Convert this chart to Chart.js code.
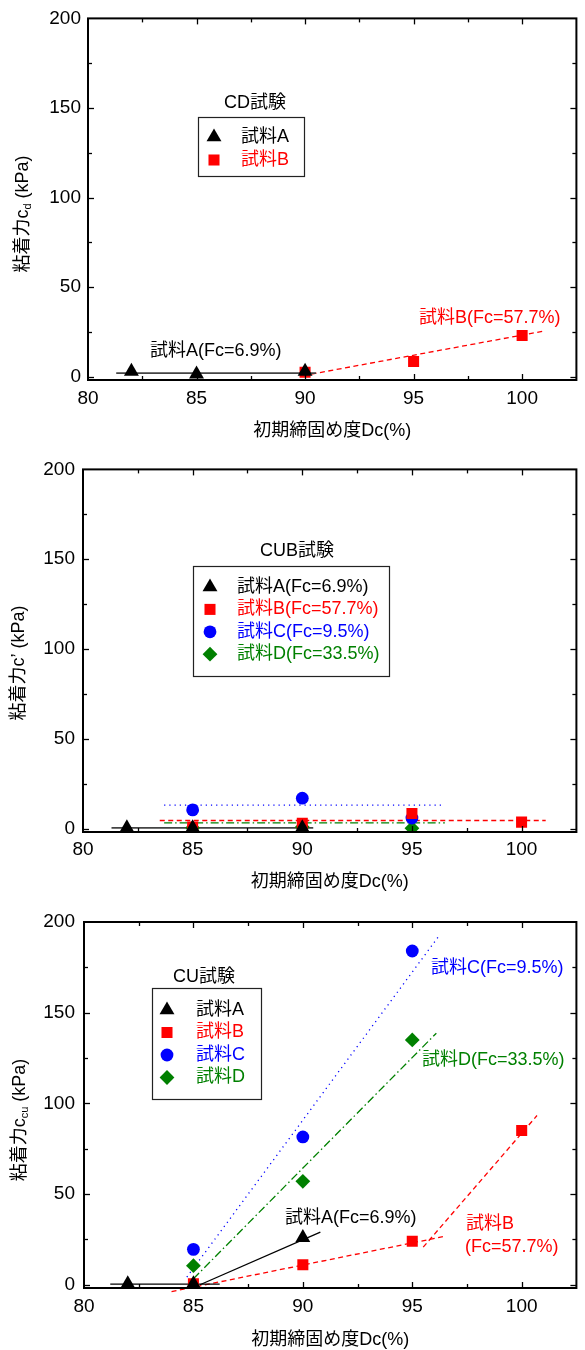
<!DOCTYPE html>
<html lang="ja">
<head>
<meta charset="utf-8">
<title>粘着力と初期締固め度</title>
<script src="https://cdn.jsdelivr.net/npm/chart.js"></script>
<style>
  html, body { margin: 0; padding: 0; background: #fff; }
  #wrap { position: relative; width: 585px; height: 1350px; overflow: hidden; }
  .panel { position: absolute; left: 0; width: 585px; height: 450px; }
</style>
</head>
<body>
<div id="wrap">
  <div class="panel" style="top:0"><canvas id="chartCD" width="585" height="450"></canvas></div>
  <div class="panel" style="top:450px"><canvas id="chartCUB" width="585" height="450"></canvas></div>
  <div class="panel" style="top:900px"><canvas id="chartCU" width="585" height="450"></canvas></div>
</div>
<script>
/* 粘着力 vs 初期締固め度 — three panels (CD / CUB / CU)
   values */

// axes (same for all panels)
const xTickValues = [80, 85, 90, 95, 100];
const yTickValues = [0, 50, 100, 150, 200];
const xRange = [80, 102.5];
const yRange = [-1.8, 200];

// ---- CD試験 ----
const cdA_dc = [82, 85, 90];
const cdA_c  = [3, 1.5, 3];
const cdB_dc = [90, 95, 100];
const cdB_c  = [2.5, 8.5, 23];
const cdFitA_dc = [81.3, 90.5];
const cdFitA_c  = [2, 2];
const cdFitB_dc = [90.3, 101];
const cdFitB_c  = [1.5, 25.5];

// ---- CUB試験 ----
const cubA_dc = [82, 85, 90];
const cubA_c  = [0.5, 0.5, 0.5];
const cubB_dc = [85, 90, 95, 100];
const cubB_c  = [1, 3, 8.5, 3.7];
const cubC_dc = [85, 90, 95];
const cubC_c  = [10.5, 17, 6];
const cubD_dc = [85, 90, 95];
const cubD_c  = [0.5, 1, 0.3];
const cubFitA_dc = [81.3, 90.5];
const cubFitA_c  = [0.5, 0.5];
const cubFitB_dc = [83.5, 101.1];
const cubFitB_c  = [4.6, 4.6];
const cubFitC_dc = [83.7, 96.5];
const cubFitC_c  = [13.2, 13.2];
const cubFitD_dc = [83.7, 96.5];
const cubFitD_c  = [3.3, 3.3];

// ---- CU試験 ----
const cuA_dc = [82, 85, 90];
const cuA_c  = [0.5, 0.5, 26];
const cuB_dc = [85, 90, 95, 100];
const cuB_c  = [0.5, 11, 24, 85];
const cuC_dc = [85, 90, 95];
const cuC_c  = [19.5, 81.5, 184];
const cuD_dc = [85, 90, 95];
const cuD_c  = [10.5, 57, 135];
const cuFitA1_dc = [81.2, 86.2];
const cuFitA1_c  = [0.3, 0.3];
const cuFitA2_dc = [85.3, 90.8];
const cuFitA2_c  = [0, 29];
const cuFitB1_dc = [84.0, 96.4];
const cuFitB1_c  = [-3.8, 26.5];
const cuFitB2_dc = [95.5, 100.7];
const cuFitB2_c  = [20.7, 93.3];
const cuFitC_dc = [84.7, 96.2];
const cuFitC_c  = [4.2, 192];
const cuFitD_dc = [85.0, 96.1];
const cuFitD_c  = [3.3, 138.7];

const FONT = '"Liberation Sans", Arial, "Noto Sans CJK JP", sans-serif';
const BLACK = '#000000', RED = '#ff0000', BLUE = '#0000ff', GREEN = '#008000';

const MARK = {
  tri:  { style: 'triangle', r: 8.6 },
  sq:   { style: 'rect', r: 7.8 },
  dot:  { style: 'circle', r: 6.4 },
  dia:  { style: 'rectRot', r: 7.4 }
};

const toPts = (xs, ys) => xs.map((x, i) => ({ x, y: ys[i] }));

const markerSet = (label, xs, ys, color, mark, order) => ({
  label, data: toPts(xs, ys), showLine: false,
  backgroundColor: color, borderColor: color, borderWidth: 0,
  pointStyle: mark.style, pointRadius: mark.r, pointHoverRadius: mark.r,
  order, isMarker: true
});

const fitSet = (xs, ys, color, dash, width) => ({
  label: 'fit', data: toPts(xs, ys), showLine: true, fill: false,
  borderColor: color, borderWidth: width, borderDash: dash,
  pointRadius: 0, pointHoverRadius: 0, order: 10, clip: false
});

const DASH = [5, 3.5];
const DOT = [1.2, 4];
const DASHDOT = [8, 3, 1.5, 3];

function drawMarker(ctx, style, x, y, r, color) {
  ctx.fillStyle = color;
  ctx.beginPath();
  if (style === 'triangle') {
    ctx.moveTo(x, y - r);
    ctx.lineTo(x + r * Math.sin(Math.PI * 2 / 3), y + r / 2);
    ctx.lineTo(x - r * Math.sin(Math.PI * 2 / 3), y + r / 2);
    ctx.closePath();
  } else if (style === 'rect') {
    const s = r * Math.SQRT1_2;
    ctx.rect(x - s, y - s, 2 * s, 2 * s);
  } else if (style === 'circle') {
    ctx.arc(x, y, r, 0, Math.PI * 2);
  } else {
    ctx.moveTo(x, y - r); ctx.lineTo(x + r, y); ctx.lineTo(x, y + r); ctx.lineTo(x - r, y);
    ctx.closePath();
  }
  ctx.fill();
}

function line(ctx, x1, y1, x2, y2) {
  ctx.beginPath(); ctx.moveTo(x1, y1); ctx.lineTo(x2, y2); ctx.stroke();
}

const mids = (v) => v.slice(1).map((b, i) => (v[i] + b) / 2);

// frame with inward ticks, axis titles, legend box, notes
const decorPlugin = {
  id: 'decor',
  afterDraw(chart, args, o) {
    const { ctx, chartArea: a, scales: { x, y } } = chart;
    ctx.save();

    // frame + ticks
    ctx.strokeStyle = BLACK;
    ctx.lineWidth = 2;
    ctx.strokeRect(a.left, a.top, a.right - a.left, a.bottom - a.top);
    ctx.lineWidth = 1.3;
    const xt = xTickValues.map(v => [v, 6]).concat(mids(xTickValues).map(v => [v, 4]));
    xt.forEach(([v, len]) => {
      const px = Math.round(x.getPixelForValue(v)) + 0.5;
      if (px <= a.left + 1 || px >= a.right - 1) return;
      line(ctx, px, a.bottom, px, a.bottom - len);
      line(ctx, px, a.top, px, a.top + len);
    });
    const yt = yTickValues.map(v => [v, 6]).concat(mids(yTickValues).map(v => [v, 4]));
    yt.forEach(([v, len]) => {
      const py = Math.round(y.getPixelForValue(v)) + 0.5;
      if (py <= a.top + 1) return;
      line(ctx, a.left, py, a.left + len, py);
      line(ctx, a.right, py, a.right - len, py);
    });

    ctx.textBaseline = 'middle';

    // x title
    ctx.fillStyle = BLACK;
    ctx.textAlign = 'center';
    ctx.font = `18px ${FONT}`;
    ctx.fillText('初期締固め度Dc(%)', (a.left + a.right) / 2, o.xTitleY);

    // y title (rotated, with subscript)
    const t = o.yTitle;
    ctx.save();
    ctx.translate(t.x, t.y);
    ctx.rotate(-Math.PI / 2);
    ctx.textAlign = 'left';
    ctx.font = `18px ${FONT}`;
    const w1 = ctx.measureText(t.main).width;
    const wt = ctx.measureText(t.tail).width;
    ctx.font = `11px ${FONT}`;
    const ws = t.sub ? ctx.measureText(t.sub).width : 0;
    let cx = -(w1 + ws + wt) / 2;
    ctx.font = `18px ${FONT}`;
    ctx.fillText(t.main, cx, 0); cx += w1;
    if (t.sub) { ctx.font = `11px ${FONT}`; ctx.fillText(t.sub, cx, 5); cx += ws; }
    ctx.font = `18px ${FONT}`;
    ctx.fillText(t.tail, cx, 0);
    ctx.restore();

    // legend title + box
    const L = o.legend;
    ctx.font = `18px ${FONT}`;
    ctx.textAlign = 'center';
    ctx.fillStyle = BLACK;
    ctx.fillText(L.title, L.titleX, L.titleY);
    ctx.lineWidth = 1.2;
    ctx.strokeStyle = '#222';
    ctx.strokeRect(L.box[0] + 0.5, L.box[1] + 0.5, L.box[2] - L.box[0], L.box[3] - L.box[1]);
    ctx.textAlign = 'left';
    chart.data.datasets.filter(d => d.isMarker).forEach((d, i) => {
      const ry = L.rowY + i * L.rowGap;
      drawMarker(ctx, d.pointStyle, L.markX, ry, d.pointRadius, d.backgroundColor);
      ctx.fillStyle = d.backgroundColor;
      ctx.fillText(d.label, L.textX, ry);
    });

    // notes next to the fitted lines
    (o.notes || []).forEach(n => {
      ctx.fillStyle = n.color;
      ctx.fillText(n.text, n.x, n.y);
    });

    ctx.restore();
  }
};

function makeOptions(area, decor) {
  return {
    responsive: false,
    animation: false,
    events: [],
    layout: { padding: { top: area.top, right: 585 - area.right, bottom: 0, left: 0 } },
    plugins: { legend: { display: false }, tooltip: { enabled: false }, decor },
    scales: {
      x: {
        type: 'linear', min: xRange[0], max: xRange[1],
        afterBuildTicks: s => { s.ticks = xTickValues.map(v => ({ value: v })); },
        afterFit: s => { s.height = 450 - area.bottom; },
        grid: { display: false, drawTicks: false }, border: { display: false },
        ticks: { color: BLACK, font: { family: FONT, size: 19 }, padding: area.xPad, maxRotation: 0 }
      },
      y: {
        type: 'linear', min: yRange[0], max: yRange[1],
        afterBuildTicks: s => { s.ticks = yTickValues.map(v => ({ value: v })); },
        afterFit: s => { s.width = area.left; },
        grid: { display: false, drawTicks: false }, border: { display: false },
        ticks: { color: BLACK, font: { family: FONT, size: 19 }, padding: area.yPad }
      }
    }
  };
}

// ---------- panel 1 : CD ----------
new Chart(document.getElementById('chartCD'), {
  type: 'scatter',
  data: {
    datasets: [
      markerSet('試料A', cdA_dc, cdA_c, BLACK, MARK.tri, 0),
      markerSet('試料B', cdB_dc, cdB_c, RED, MARK.sq, 1),
      fitSet(cdFitA_dc, cdFitA_c, '#444', [], 1.8),
      fitSet(cdFitB_dc, cdFitB_c, RED, DASH, 1.3)
    ]
  },
  options: makeOptions(
    { left: 88, right: 583, top: 18, bottom: 380, xPad: 7, yPad: 7 },
    {
      xTitleY: 431,
      yTitle: { x: 23, y: 214, main: '粘着力c', sub: 'd', tail: ' (kPa)' },
      legend: { title: 'CD試験', titleX: 255, titleY: 103, box: [198, 117, 304, 176],
                markX: 214, textX: 241, rowY: 137, rowGap: 23 },
      notes: [
        { text: '試料A(Fc=6.9%)', x: 150, y: 351, color: BLACK },
        { text: '試料B(Fc=57.7%)', x: 419, y: 318, color: RED }
      ]
    }),
  plugins: [decorPlugin]
});

// ---------- panel 2 : CUB ----------
new Chart(document.getElementById('chartCUB'), {
  type: 'scatter',
  data: {
    datasets: [
      markerSet('試料A(Fc=6.9%)', cubA_dc, cubA_c, BLACK, MARK.tri, 0),
      markerSet('試料B(Fc=57.7%)', cubB_dc, cubB_c, RED, MARK.sq, 1),
      markerSet('試料C(Fc=9.5%)', cubC_dc, cubC_c, BLUE, MARK.dot, 2),
      markerSet('試料D(Fc=33.5%)', cubD_dc, cubD_c, GREEN, MARK.dia, 3),
      fitSet(cubFitA_dc, cubFitA_c, '#444', [], 1.8),
      fitSet(cubFitB_dc, cubFitB_c, RED, DASH, 1.3),
      fitSet(cubFitC_dc, cubFitC_c, BLUE, DOT, 1.3),
      fitSet(cubFitD_dc, cubFitD_c, GREEN, DASHDOT, 1.3)
    ]
  },
  options: makeOptions(
    { left: 83, right: 583, top: 16, bottom: 382, xPad: 6, yPad: 8 },
    {
      xTitleY: 432,
      yTitle: { x: 19, y: 213, main: '粘着力c', sub: '', tail: '’ (kPa)' },
      legend: { title: 'CUB試験', titleX: 297, titleY: 101, box: [193, 116, 389, 226],
                markX: 210, textX: 237, rowY: 137, rowGap: 22.4 }
    }),
  plugins: [decorPlugin]
});

// ---------- panel 3 : CU ----------
new Chart(document.getElementById('chartCU'), {
  type: 'scatter',
  data: {
    datasets: [
      markerSet('試料A', cuA_dc, cuA_c, BLACK, MARK.tri, 0),
      markerSet('試料B', cuB_dc, cuB_c, RED, MARK.sq, 1),
      markerSet('試料C', cuC_dc, cuC_c, BLUE, MARK.dot, 2),
      markerSet('試料D', cuD_dc, cuD_c, GREEN, MARK.dia, 3),
      fitSet(cuFitA1_dc, cuFitA1_c, BLACK, [], 1.3),
      fitSet(cuFitA2_dc, cuFitA2_c, BLACK, [], 1.3),
      fitSet(cuFitB1_dc, cuFitB1_c, RED, DASH, 1.3),
      fitSet(cuFitB2_dc, cuFitB2_c, RED, DASH, 1.3),
      fitSet(cuFitC_dc, cuFitC_c, BLUE, DOT, 1.3),
      fitSet(cuFitD_dc, cuFitD_c, GREEN, DASHDOT, 1.3)
    ]
  },
  options: makeOptions(
    { left: 84, right: 583, top: 22, bottom: 388, xPad: 7, yPad: 9 },
    {
      xTitleY: 440,
      yTitle: { x: 20, y: 220, main: '粘着力c', sub: 'cu', tail: ' (kPa)' },
      legend: { title: 'CU試験', titleX: 204, titleY: 77, box: [152, 88, 261, 199],
                markX: 167, textX: 196, rowY: 110, rowGap: 22.5 },
      notes: [
        { text: '試料C(Fc=9.5%)', x: 431, y: 68, color: BLUE },
        { text: '試料D(Fc=33.5%)', x: 422, y: 160, color: GREEN },
        { text: '試料A(Fc=6.9%)', x: 285, y: 318, color: BLACK },
        { text: '試料B', x: 466, y: 324, color: RED },
        { text: '(Fc=57.7%)', x: 465, y: 347, color: RED }
      ]
    }),
  plugins: [decorPlugin]
});
</script>
</body>
</html>
